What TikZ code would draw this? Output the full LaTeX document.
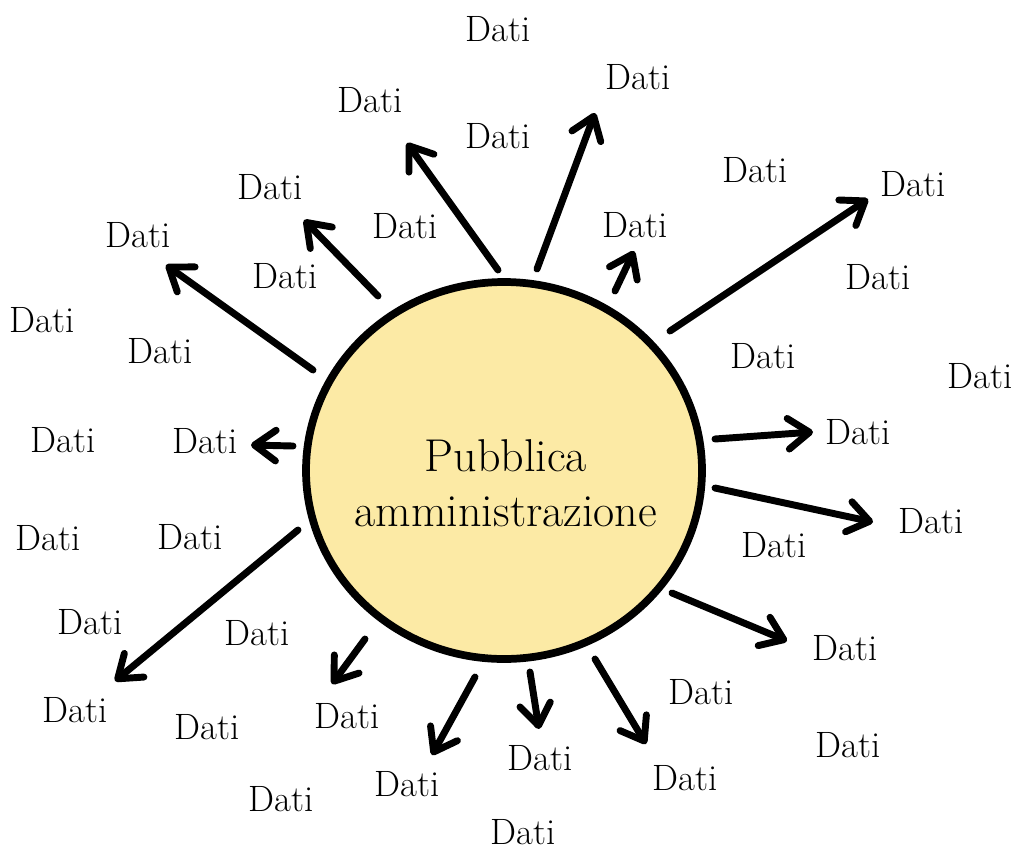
\documentclass[tikz,border=0pt]{standalone}
\usepackage{fontspec}
\usetikzlibrary{arrows.meta}
\definecolor{pafill}{RGB}{252,234,165}
\begin{document}
\begin{tikzpicture}[x=0.75pt,y=-0.75pt,
  dati/.style={inner sep=0pt,font=\fontsize{27.5pt}{32pt}\selectfont},
  arr/.style={line width=5.2pt,line cap=round,
    -{Straight Barb[length=16pt,width=23pt,line join=round,line cap=round]}}]
\useasboundingbox (0,0) rectangle (1016,850);
% central circle
\draw[line width=5.8pt,fill=pafill] (504,470.5) ellipse [x radius=198, y radius=188.5];
\node[inner sep=0pt,align=center,font=\fontsize{34.5pt}{41pt}\selectfont] (pa) at (506,483) {Pubblica\\amministrazione};
% Dati labels
\node[dati] (d1) at (498,29) {Dati};
\node[dati] (d2) at (638,77) {Dati};
\node[dati] (d3) at (370,100) {Dati};
\node[dati] (d4) at (498,136) {Dati};
\node[dati] (d5) at (755,170) {Dati};
\node[dati] (d6) at (270,187) {Dati};
\node[dati] (d7) at (913,184) {Dati};
\node[dati] (d8) at (405,226) {Dati};
\node[dati] (d9) at (635,225) {Dati};
\node[dati] (d10) at (138,235) {Dati};
\node[dati] (d11) at (285,276) {Dati};
\node[dati] (d12) at (878,277) {Dati};
\node[dati] (d13) at (42,320) {Dati};
\node[dati] (d14) at (160,351) {Dati};
\node[dati] (d15) at (763,356) {Dati};
\node[dati] (d16) at (980,376) {Dati};
\node[dati] (d17) at (63,440) {Dati};
\node[dati] (d18) at (205,441) {Dati};
\node[dati] (d19) at (858,432) {Dati};
\node[dati] (d20) at (931,521) {Dati};
\node[dati] (d21) at (48,538) {Dati};
\node[dati] (d22) at (190,537) {Dati};
\node[dati] (d23) at (774,545) {Dati};
\node[dati] (d24) at (90,622) {Dati};
\node[dati] (d25) at (257,633) {Dati};
\node[dati] (d26) at (845,648) {Dati};
\node[dati] (d27) at (701,692) {Dati};
\node[dati] (d28) at (75,710) {Dati};
\node[dati] (d29) at (347,716) {Dati};
\node[dati] (d30) at (207,727) {Dati};
\node[dati] (d31) at (848,745) {Dati};
\node[dati] (d32) at (540,758) {Dati};
\node[dati] (d33) at (685,778) {Dati};
\node[dati] (d34) at (407,784) {Dati};
\node[dati] (d35) at (281,799) {Dati};
\node[dati] (d36) at (523,832) {Dati};
% arrow end points
\coordinate (s1) at (313,370);  \coordinate (t1) at (166,265);
\coordinate (s2) at (378,296);  \coordinate (t2) at (304,220);
\coordinate (s3) at (498,270);  \coordinate (t3) at (407,143);
\coordinate (s4) at (537,269);  \coordinate (t4) at (595,113);
\coordinate (s5) at (615,291);  \coordinate (t5) at (634,251);
\coordinate (s6) at (670,331);  \coordinate (t6) at (868,199);
\coordinate (s7) at (715,439);  \coordinate (t7) at (813,432);
\coordinate (s8) at (715,488);  \coordinate (t8) at (873,522);
\coordinate (s9) at (672,593);  \coordinate (t9) at (787,641);
\coordinate (s10) at (595,659); \coordinate (t10) at (646,744);
\coordinate (s11) at (530,672); \coordinate (t11) at (539,729);
\coordinate (s12) at (293,446); \coordinate (t12) at (251,445);
\coordinate (s13) at (298,530); \coordinate (t13) at (115,681);
\coordinate (s14) at (365,639); \coordinate (t14) at (332,684);
\coordinate (s15) at (475,677); \coordinate (t15) at (432,755);
\foreach \i in {1,...,15} \draw[arr] (s\i) -- (t\i);
\end{tikzpicture}
\end{document}
